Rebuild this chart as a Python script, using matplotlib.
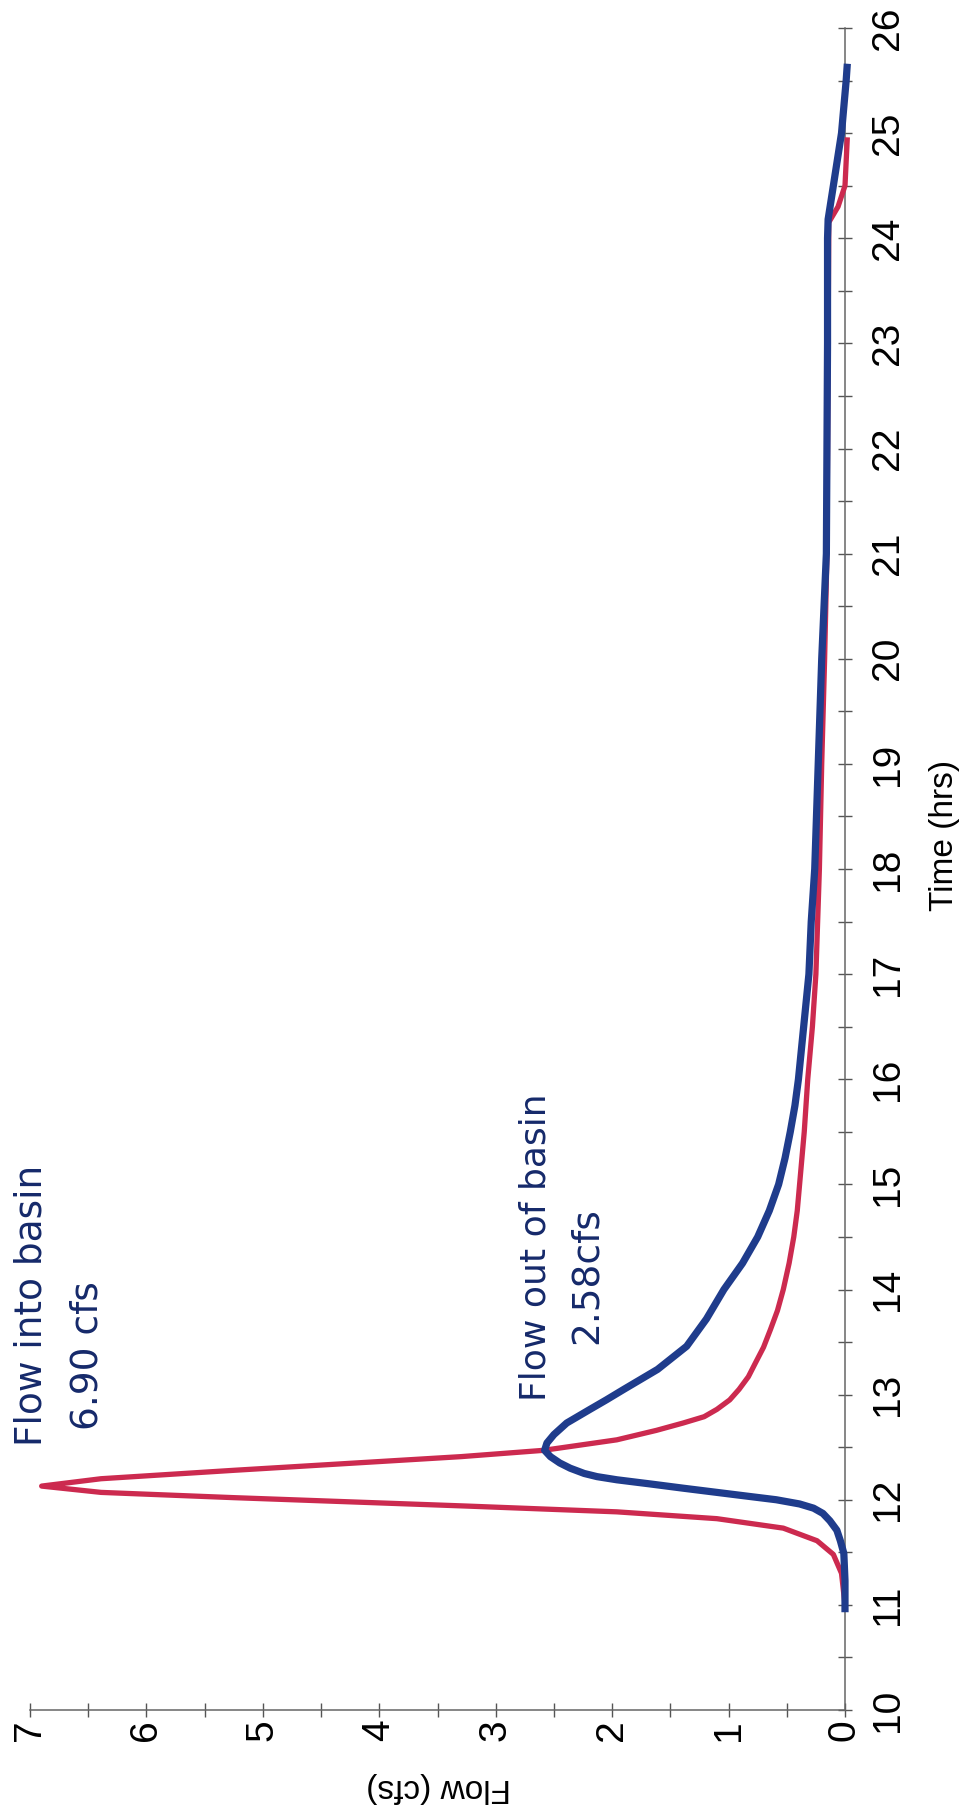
import matplotlib
matplotlib.use("Agg")
import matplotlib.pyplot as plt
from matplotlib.ticker import MultipleLocator

plt.rcParams['font.family'] = ['Liberation Sans', 'DejaVu Sans']

inflow_time = [11.0, 11.30, 11.48, 11.61, 11.73, 11.82, 11.885, 11.94, 12.02, 12.07,
               12.13, 12.20, 12.28, 12.35, 12.41, 12.47, 12.57, 12.66, 12.73, 12.79,
               12.86, 12.95, 13.05, 13.17, 13.30, 13.45, 13.62, 13.80, 14.0, 14.25,
               14.5, 14.75, 15.0, 15.5, 16.0, 16.5, 17.0, 17.5, 18.0, 19.0,
               20.0, 21.0, 22.0, 23.0, 24.0, 24.15, 24.3, 24.5, 24.96]
inflow_cfs = [0.0, 0.03, 0.10, 0.24, 0.53, 1.10, 1.96, 3.25, 5.25, 6.39,
              6.90, 6.39, 5.25, 4.2, 3.3, 2.59, 1.96, 1.62, 1.39, 1.21,
              1.10, 0.99, 0.91, 0.83, 0.77, 0.70, 0.64, 0.58, 0.53, 0.48,
              0.44, 0.41, 0.39, 0.35, 0.32, 0.28, 0.25, 0.235, 0.22, 0.20,
              0.175, 0.155, 0.15, 0.145, 0.14, 0.14, 0.06, 0.0, -0.02]

outflow_time = [10.93, 11.23, 11.49, 11.61, 11.71, 11.80, 11.87, 11.92, 11.96, 12.00,
                12.03, 12.07, 12.11, 12.15, 12.19, 12.22, 12.25, 12.30, 12.35, 12.41,
                12.47, 12.54, 12.62, 12.73, 12.86, 12.95, 13.05, 13.24, 13.46, 13.72,
                14.0, 14.25, 14.5, 14.75, 15.0, 15.25, 15.5, 15.75, 16.0, 16.5,
                17.0, 17.5, 18.0, 19.0, 20.0, 21.0, 22.0, 23.0, 24.0, 24.18,
                24.5, 25.0, 25.5, 25.66]
outflow_cfs = [0.0, 0.0, 0.01, 0.04, 0.07, 0.13, 0.19, 0.27, 0.39, 0.59,
               0.81, 1.10, 1.39, 1.67, 1.96, 2.13, 2.24, 2.36, 2.45, 2.53,
               2.58, 2.56, 2.50, 2.39, 2.19, 2.05, 1.90, 1.61, 1.36, 1.19,
               1.04, 0.88, 0.75, 0.65, 0.57, 0.515, 0.47, 0.43, 0.40, 0.355,
               0.31, 0.29, 0.26, 0.23, 0.20, 0.16, 0.155, 0.15, 0.15, 0.145,
               0.10, 0.03, -0.01, -0.02]

time_ticks = list(range(10, 27))
time_labels = [str(t) for t in time_ticks]
flow_ticks = list(range(0, 8))
flow_labels = [str(f) for f in flow_ticks]

time_title = "Time (hrs)"
flow_title = "Flow (cfs)"
note_in = ["Flow into basin", "6.90 cfs"]
note_out = ["Flow out of basin", "2.58cfs"]

# ---- figure ----
W, H = 966, 1807
fig = plt.figure(figsize=(W / 100, H / 100), dpi=100)
fig.patch.set_facecolor('white')

x0, x1 = 30, 845      # pixel x of flow 7 and flow 0
yb, yt = 1710, 28     # pixel y of time 10 and time 26
ax = fig.add_axes([x0 / W, 1 - yb / H, (x1 - x0) / W, (yb - yt) / H])
ax.set_facecolor('none')

red = '#cc2a4f'
blue = '#1f3c8c'
ax.plot(inflow_cfs, inflow_time, color=red, lw=3.8, clip_on=False, zorder=3,
        solid_joinstyle='round', solid_capstyle='butt')
ax.plot(outflow_cfs, outflow_time, color=blue, lw=5.2, clip_on=False, zorder=4,
        solid_joinstyle='round', solid_capstyle='butt')

ax.set_xlim(7, 0)
ax.set_ylim(10, 26)

for s in ['top', 'left']:
    ax.spines[s].set_visible(False)
for s in ['right', 'bottom']:
    ax.spines[s].set_color('#666666')
    ax.spines[s].set_linewidth(1.1)

tick_font = ['Liberation Sans Narrow', 'Liberation Sans', 'DejaVu Sans']
ax.yaxis.tick_right()
ax.set_xticks(flow_ticks)
ax.set_xticklabels(flow_labels, rotation=90, ha='center', va='top', family=tick_font)
ax.set_yticks(time_ticks)
ax.set_yticklabels(time_labels, rotation=90, ha='left', va='center', family=tick_font)
ax.xaxis.set_minor_locator(MultipleLocator(0.5))
ax.yaxis.set_minor_locator(MultipleLocator(0.5))
ax.tick_params(which='both', direction='inout', length=10, width=1.0, color='#555555')
ax.tick_params(axis='x', which='major', pad=2, labelsize=28)
ax.tick_params(axis='y', which='major', pad=13, labelsize=28)

fig.text(945 / W, 1 - 835 / H, time_title, rotation=90, ha='center', va='center', fontsize=24)
fig.text(439 / W, 1 - 1788 / H, flow_title, rotation=180, ha='center', va='center', fontsize=24)

hand = '#15296a'
hand_font = ['DejaVu Sans']
fig.text(32 / W, 1 - 1305 / H, note_in[0], rotation=90, ha='center', va='center',
         fontsize=27, color=hand, family=hand_font)
fig.text(88 / W, 1 - 1356 / H, note_in[1], rotation=90, ha='center', va='center',
         fontsize=27, color=hand, family=hand_font)
fig.text(535 / W, 1 - 1247 / H, note_out[0], rotation=90, ha='center', va='center',
         fontsize=26, color=hand, family=hand_font)
fig.text(587 / W, 1 - 1276 / H, note_out[1], rotation=90, ha='center', va='center',
         fontsize=27, color=hand, family=hand_font)

fig.savefig('out.png', dpi=100, facecolor='white')
